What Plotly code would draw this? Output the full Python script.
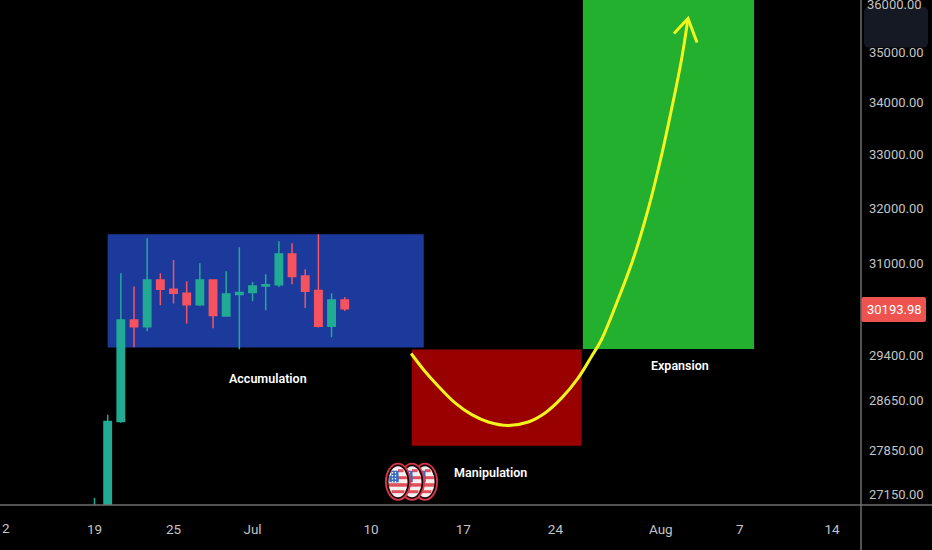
import math
import plotly.graph_objects as go

# ---- data -----------------------------------------------------------------
candle_dates = ["2023-06-19", "2023-06-20", "2023-06-21", "2023-06-22", "2023-06-23", "2023-06-24",
                "2023-06-25", "2023-06-26", "2023-06-27", "2023-06-28", "2023-06-29", "2023-06-30",
                "2023-07-01", "2023-07-02", "2023-07-03", "2023-07-04", "2023-07-05", "2023-07-06",
                "2023-07-07", "2023-07-08"]
opens = [26600, 26700, 28313, 30009, 29895, 30708, 30544, 30473, 30276, 30708, 30078, 30451,
         30486, 30602, 30626, 31171, 30779, 30521, 29905, 30356]
highs = [27097, 28423, 30827, 30591, 31454, 30827, 31063, 30685, 31004, 30720, 30862, 31291,
         30672, 30809, 31400, 31363, 30897, 31526, 30473, 30403]
lows = [26500, 26600, 28292, 29546, 29819, 30264, 30298, 29947, 30251, 29870, 30067, 29512,
        30333, 30177, 30584, 30632, 30217, 29883, 29716, 30164]
closes = [26850, 28313, 30009, 29895, 30708, 30544, 30473, 30276, 30708, 30090, 30461, 30486,
          30602, 30626, 31171, 30768, 30508, 29905, 30356, 30206]

curve_dates = ["2023-07-13 01:00", "2023-07-14 02:00", "2023-07-15 02:30", "2023-07-16 09:00",
               "2023-07-17 15:30", "2023-07-18 21:30", "2023-07-20 10:00", "2023-07-21 22:30",
               "2023-07-23 05:00", "2023-07-24 11:30", "2023-07-25 17:30", "2023-07-26 18:00",
               "2023-07-27 12:00", "2023-07-28 16:00", "2023-07-29 21:30", "2023-07-31 01:00",
               "2023-07-31 22:30", "2023-08-01 17:00", "2023-08-02 14:00", "2023-08-03 01:30"]
curve_prices = [29439, 29140, 28890, 28615, 28423, 28304, 28248, 28304, 28451, 28698, 29030,
                29393, 29677, 30316, 31076, 31983, 32860, 33742, 34868, 35680]
head_dates = ["2023-08-02 00:00", "2023-08-03 01:30", "2023-08-03 18:00"]
head_prices = [35374, 35680, 35191]

price_ticks = [27150, 27850, 28650, 29400, 31000, 32000, 33000, 34000, 35000]
price_labels = ["27150.00", "27850.00", "28650.00", "29400.00", "31000.00", "32000.00",
                "33000.00", "34000.00", "35000.00"]
date_ticks = ["2023-06-19", "2023-06-25", "2023-07-01", "2023-07-10", "2023-07-17",
              "2023-07-24", "2023-08-01", "2023-08-07", "2023-08-14"]
date_labels = ["19", "25", "Jul", "10", "17", "24", "Aug", "7", "14"]
last_price = 30193.98

zones = [
    ("2023-06-20 00:00", "2023-07-14 00:00", 29541, 31526, "#1b3a9c"),
    ("2023-07-13 02:00", "2023-07-26 00:00", 27920, 29505, "#990000"),
    ("2023-07-26 02:00", "2023-08-08 02:00", 29515, 37000, "#22b02e"),
]
zone_labels = [("Accumulation", 268, 378), ("Manipulation", 490, 472), ("Expansion", 680, 365)]

FONT = "Roboto"

# ---- layout helpers --------------------------------------------------------
W, H, PW, PH = 932, 550, 861, 505
def px(x): return x / PW
def py(y): return 1 - y / PH

shapes = []
for x0, x1, y0, y1, c in zones:
    shapes.append(dict(type="rect", xref="x", yref="y", x0=x0, x1=x1, y0=y0, y1=y1,
                       fillcolor=c, line_width=0, layer="below"))

def rect(x0, y0, x1, y1, color):
    shapes.append(dict(type="rect", xref="paper", yref="paper", x0=px(x0), x1=px(x1), y0=py(y1), y1=py(y0),
                       fillcolor=color, line_width=0, layer="above"))
def ell(cx, cy, rx, ry, color):
    shapes.append(dict(type="circle", xref="paper", yref="paper", x0=px(cx - rx), x1=px(cx + rx),
                       y0=py(cy + ry), y1=py(cy - ry), fillcolor=color, line_width=0, layer="above"))
def rounded(x0, y0, x1, y1, r, color):
    pts = [("M", x0 + r, y0), ("L", x1 - r, y0), ("Q", x1, y0, x1, y0 + r), ("L", x1, y1 - r),
           ("Q", x1, y1, x1 - r, y1), ("L", x0 + r, y1), ("Q", x0, y1, x0, y1 - r), ("L", x0, y0 + r),
           ("Q", x0, y0, x0 + r, y0)]
    d = ""
    for p in pts:
        nums = p[1:]
        pairs = [f"{px(nums[i]):.5f},{py(nums[i + 1]):.5f}" for i in range(0, len(nums), 2)]
        d += p[0] + " ".join(pairs) + " "
    shapes.append(dict(type="path", xref="paper", yref="paper", path=d + "Z",
                       fillcolor=color, line_width=0, layer="above"))

def flag(cx, cy):
    ell(cx, cy, 13, 19, "#d8384c")
    ell(cx, cy, 11.2, 17.2, "#1a0508")
    rx, ry = 9.5, 15.5
    ell(cx, cy, rx, ry, "#f4f0f0")
    for a, b, left in [(-12.5, -9.5, False), (-5.5, -2.5, False), (1.5, 5, True), (8.5, 11.5, True)]:
        m = max(abs(a), abs(b))
        hw = rx * math.sqrt(1 - (m / ry) ** 2)
        rect(cx if not left else cx - hw, cy + a, cx + hw, cy + b, "#e0505a")
    hw = rx * math.sqrt(1 - (11 / ry) ** 2)
    rect(cx - hw, cy - 11, cx + 0.5, cy + 0.5, "#3a6cc4")
    rect(cx - rx + 0.8, cy - 6, cx + 0.5, cy + 0.5, "#3a6cc4")
    for row in (-9, -6, -3, 0):
        for col in (-5.5, -2.5):
            ell(cx + col, cy + row, 0.8, 0.8, "#ffffff")

for cx in (425, 412, 398):
    flag(cx, 481.7)

# axis rules and price tag
shapes.append(dict(type="line", xref="paper", yref="paper", x0=0, x1=W / PW, y0=py(505), y1=py(505),
                   line=dict(color="#6e6e6e", width=1.5), layer="above"))
shapes.append(dict(type="line", xref="paper", yref="paper", x0=1, x1=1, y0=py(0), y1=py(550),
                   line=dict(color="#6e6e6e", width=1.5), layer="above"))
rounded(861.5, 297, 926, 322, 2, "#ef5350")
# dark rounded box, top right
rounded(864, 7, 928, 47.5, 5, "#151924")

def note(t, x, y, size, color, weight=400, yref="paper"):
    return dict(text=t, xref="paper", yref=yref, x=px(x), y=y, showarrow=False, xanchor="center",
                yanchor="middle", font=dict(family=FONT, size=size, color=color, weight=weight))

annotations = [note(t, x, py(y), 12.5, "#ffffff", 600) for t, x, y in zone_labels]
annotations.append(note(f"{last_price:.2f}", 895, math.log10(last_price), 13, "#ffffff", yref="y"))
annotations.append(note("2", 6, py(527.5), 13.5, "#c4c4c4"))
annotations.append(note("36000.00", 895, py(4), 13, "#c4c4c4"))

# ---- traces ----------------------------------------------------------------
fig = go.Figure()
fig.add_trace(go.Candlestick(
    x=candle_dates, open=opens, high=highs, low=lows, close=closes,
    increasing=dict(line=dict(color="#22ab94", width=1.5), fillcolor="#22ab94"),
    decreasing=dict(line=dict(color="#f7525f", width=1.5), fillcolor="#f7525f"),
    whiskerwidth=0, showlegend=False, hoverinfo="skip"))
fig.add_trace(go.Scatter(x=curve_dates, y=curve_prices, mode="lines", showlegend=False, hoverinfo="skip",
                         line=dict(color="#f5f51e", width=3, shape="spline")))
fig.add_trace(go.Scatter(x=head_dates, y=head_prices, mode="lines", showlegend=False, hoverinfo="skip",
                         line=dict(color="#f5f51e", width=3)))

fig.update_layout(
    width=W, height=H, paper_bgcolor="#000000", plot_bgcolor="#000000",
    margin=dict(l=0, r=W - PW, t=0, b=H - PH), showlegend=False, boxgap=0.2,
    shapes=shapes, annotations=annotations,
    xaxis=dict(type="date", range=["2023-06-11 19:48", "2023-08-16 04:48"], showgrid=False, zeroline=False,
               tickmode="array", tickvals=date_ticks, ticktext=date_labels, ticks="", showline=False,
               tickfont=dict(family=FONT, size=13.5, color="#c4c4c4"), ticklabelstandoff=14,
               rangeslider=dict(visible=False)),
    yaxis=dict(type="log", side="right", range=[4.43115, 4.55705], showgrid=False, zeroline=False,
               tickmode="array", tickvals=price_ticks, ticktext=price_labels, ticks="", showline=False,
               tickfont=dict(family=FONT, size=13, color="#c4c4c4"), ticklabelstandoff=7),
)
fig.write_html("out.html", config={"displayModeBar": False},
               post_script="document.body.style.margin='0';document.body.style.background='#000';")
